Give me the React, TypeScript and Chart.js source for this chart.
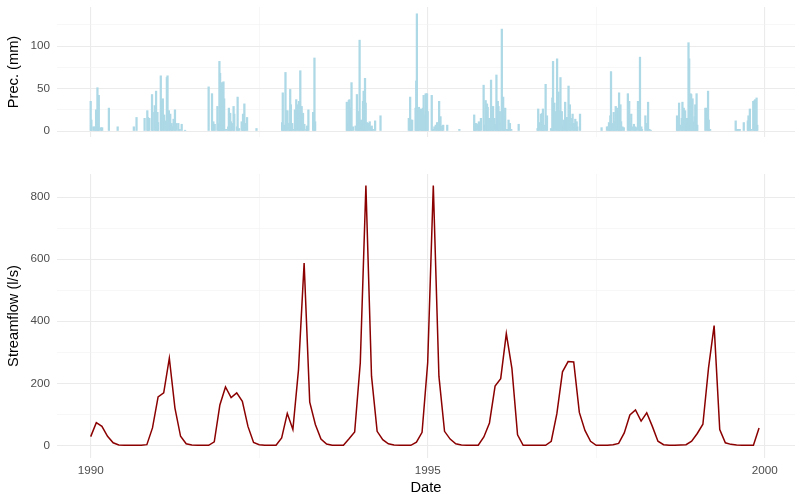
import React, { useEffect, useRef } from "react";
import { Chart, registerables } from "chart.js";

Chart.register(...registerables);

// ---------- DATA ----------
const flowStartYear = 1990;
// monthly streamflow (l/s), Jan 1990 .. Dec 1999
const streamflow = [
  28, 73, 61, 29, 8, 1, 0, 0, 0, 0, 2, 56,
  156, 169, 281, 120, 29, 5, 1, 0, 0, 0, 11, 130,
  188, 154, 169, 142, 61, 9, 2, 0, 0, 0, 24, 103,
  51, 244, 588, 139, 67, 20, 4, 0, 0, 0, 21, 43,
  266, 838, 223, 45, 18, 5, 1, 0, 0, 0, 10, 42,
  266, 838, 223, 45, 20, 5, 1, 0, 0, 0, 27, 72,
  191, 215, 360, 247, 34, 0, 0, 0, 0, 0, 13, 102,
  237, 270, 269, 106, 48, 13, 0, 0, 0, 2, 6, 40,
  98, 114, 78, 105, 61, 13, 2, 0, 0, 1, 2, 13,
  38, 68, 249, 386, 51, 8, 3, 1, 0, 0, 0, 56,
];

// precipitation events (date in decimal years, mm)
const precDate = [
  1990.00, 1990.01, 1990.04, 1990.06, 1990.08, 1990.10, 1990.11, 1990.12, 1990.15, 1990.17,
  1990.27, 1990.40, 1990.64, 1990.68, 1990.80, 1990.84, 1990.85, 1990.87, 1990.91, 1990.92,
  1990.95, 1990.97, 1990.99,
  1991.00, 1991.04, 1991.05, 1991.07, 1991.09, 1991.11, 1991.13, 1991.14, 1991.16, 1991.18,
  1991.20, 1991.21, 1991.23, 1991.25, 1991.27, 1991.30, 1991.32, 1991.35, 1991.40, 1991.75,
  1991.80, 1991.82, 1991.84, 1991.88, 1991.90, 1991.91, 1991.92, 1991.94, 1991.95, 1991.97,
  1991.98,
  1992.01, 1992.04, 1992.05, 1992.07, 1992.08, 1992.10, 1992.12, 1992.13, 1992.17, 1992.18,
  1992.20, 1992.24, 1992.26, 1992.28, 1992.29, 1992.32, 1992.46, 1992.84, 1992.85, 1992.87,
  1992.89, 1992.90, 1992.92, 1992.94, 1992.96, 1992.97, 1992.99,
  1993.01, 1993.03, 1993.05, 1993.07, 1993.09, 1993.11, 1993.13, 1993.15, 1993.17, 1993.20,
  1993.21, 1993.23, 1993.30, 1993.32, 1993.33, 1993.80, 1993.81, 1993.83, 1993.84, 1993.86,
  1993.87, 1993.89, 1993.93, 1993.95, 1993.97, 1993.98, 1993.99,
  1994.01, 1994.02, 1994.04, 1994.05, 1994.07, 1994.08, 1994.10, 1994.12, 1994.14, 1994.16,
  1994.17, 1994.19, 1994.22, 1994.30, 1994.72, 1994.74, 1994.75, 1994.77, 1994.82, 1994.83,
  1994.84, 1994.86, 1994.87, 1994.90, 1994.91, 1994.93, 1994.94, 1994.96, 1994.97, 1994.99,
  1995.00, 1995.06, 1995.08, 1995.10, 1995.12, 1995.14, 1995.16, 1995.17, 1995.19, 1995.21,
  1995.23, 1995.29, 1995.47, 1995.69, 1995.70, 1995.72, 1995.74, 1995.76, 1995.77, 1995.79,
  1995.83, 1995.84, 1995.86, 1995.88, 1995.89, 1995.91, 1995.93, 1995.94, 1995.96, 1995.97,
  1995.99,
  1996.01, 1996.02, 1996.04, 1996.05, 1996.07, 1996.08, 1996.10, 1996.12, 1996.13, 1996.15,
  1996.17, 1996.19, 1996.20, 1996.22, 1996.24, 1996.35, 1996.63, 1996.64, 1996.66, 1996.68,
  1996.70, 1996.71, 1996.73, 1996.75, 1996.77, 1996.83, 1996.85, 1996.86, 1996.88, 1996.90,
  1996.92, 1996.94, 1996.95, 1996.97, 1996.99,
  1997.00, 1997.02, 1997.04, 1997.06, 1997.07, 1997.09, 1997.11, 1997.13, 1997.15, 1997.17,
  1997.19, 1997.21, 1997.22, 1997.26, 1997.58, 1997.66, 1997.68, 1997.69, 1997.71, 1997.72,
  1997.74, 1997.76, 1997.77, 1997.79, 1997.81, 1997.83, 1997.84, 1997.86, 1997.87, 1997.89,
  1997.91, 1997.97, 1997.99,
  1998.00, 1998.02, 1998.04, 1998.06, 1998.08, 1998.09, 1998.12, 1998.14, 1998.15, 1998.17,
  1998.18, 1998.23, 1998.25, 1998.27, 1998.29, 1998.31, 1998.70, 1998.71, 1998.73, 1998.75,
  1998.77, 1998.78, 1998.80, 1998.82, 1998.83, 1998.84, 1998.85, 1998.87, 1998.88, 1998.90,
  1998.91, 1998.93, 1998.94, 1998.96, 1998.97, 1998.99,
  1999.00, 1999.12, 1999.14, 1999.16, 1999.17, 1999.19, 1999.57, 1999.59, 1999.61, 1999.63,
  1999.69, 1999.75, 1999.76, 1999.78, 1999.80, 1999.83, 1999.85, 1999.86, 1999.88, 1999.89,
];
const precMm = [
  35, 13, 5, 5, 25, 51, 30, 42, 4, 4,
  27, 5, 5, 16, 15, 24, 16, 15, 43, 22,
  30, 47, 22,
  10, 65, 35, 38, 19, 12, 63, 65, 24, 20,
  9, 5, 14, 25, 9, 9, 2, 8, 1, 52,
  44, 11, 8, 29, 9, 82, 68, 36, 57, 58,
  38,
  2, 5, 27, 21, 11, 9, 29, 20, 5, 40,
  3, 11, 20, 32, 9, 16, 3, 10, 45, 7,
  69, 24, 24, 9, 49, 31, 9,
  2, 25, 37, 31, 35, 71, 29, 21, 8, 2,
  6, 25, 22, 86, 11, 34, 11, 36, 37, 27,
  57, 5, 6, 43, 23, 7, 107,
  13, 9, 35, 47, 62, 33, 10, 9, 11, 5,
  6, 2, 12, 18, 15, 40, 13, 13, 27, 59,
  138, 27, 28, 26, 25, 27, 42, 19, 44, 44,
  23, 42, 2, 5, 7, 10, 10, 35, 17, 6,
  7, 7, 2, 19, 9, 9, 8, 11, 7, 15,
  54, 7, 36, 32, 28, 15, 11, 60, 28, 29,
  15,
  8, 66, 35, 29, 23, 9, 120, 40, 19, 27,
  2, 2, 13, 9, 2, 8, 3, 26, 10, 20,
  21, 26, 7, 55, 18, 3, 39, 82, 33, 23,
  85, 46, 24, 63, 23,
  6, 13, 34, 16, 16, 53, 31, 15, 20, 9,
  14, 11, 5, 20, 4, 5, 5, 10, 18, 70,
  9, 22, 11, 29, 27, 23, 45, 31, 11, 5,
  4, 44, 35,
  9, 20, 5, 8, 5, 4, 35, 9, 87, 5,
  2, 18, 9, 34, 2, 1, 18, 11, 33, 7,
  15, 34, 27, 24, 15, 8, 15, 104, 85, 44,
  43, 38, 11, 17, 31, 44,
  7, 27, 27, 47, 13, 2, 12, 2, 2, 2,
  10, 12, 18, 26, 2, 35, 36, 37, 39, 7,
];

const yearMajor = [1990, 1995, 2000];
const yearMinor = [1992.5, 1997.5];
const precMajor = [0, 50, 100];
const precMinor = [25, 75, 125];
const flowMajor = [0, 200, 400, 600, 800];
const flowMinor = [100, 300, 500, 700];

// ---------- STYLE ----------
const FONT = "'Liberation Sans', Arial, Helvetica, sans-serif";
const TICK_COLOR = "#4D4D4D";
const GRID = "#EBEBEB";
const X_MIN = 1989.5;
const X_MAX = 2000.45;

function gridOpts(major: number[]) {
  return {
    drawTicks: false,
    offset: false,
    color: (ctx: any) => (ctx.tick && major.includes(ctx.tick.value) ? GRID : "#F2F2F2"),
    lineWidth: (ctx: any) => (ctx.tick && major.includes(ctx.tick.value) ? 1.1 : 0.6),
  };
}

function xScale(showLabels: boolean) {
  return {
    type: "linear",
    min: X_MIN,
    max: X_MAX,
    offset: false,
    afterBuildTicks: (s: any) => {
      s.ticks = [...yearMajor, ...yearMinor].sort((a, b) => a - b).map((v) => ({ value: v }));
    },
    afterFit: (s: any) => {
      s.height = showLabels ? 42 : 0;
      s.paddingLeft = 0;
      s.paddingRight = 0;
    },
    grid: gridOpts(yearMajor),
    border: { display: false },
    ticks: {
      display: showLabels,
      autoSkip: false,
      maxRotation: 0,
      padding: 6,
      color: TICK_COLOR,
      font: { family: FONT, size: 11.7 },
      callback: (v: any) => (yearMajor.includes(v) ? String(v) : ""),
    },
    title: {
      display: showLabels,
      text: "Date",
      color: "#000",
      padding: { top: 0, bottom: 3 },
      font: { family: FONT, size: 14.67 },
    },
  };
}

function yScale(min: number, max: number, major: number[], minor: number[], title: string) {
  return {
    type: "linear",
    min,
    max,
    afterBuildTicks: (s: any) => {
      s.ticks = [...major, ...minor].sort((a, b) => a - b).map((v) => ({ value: v }));
    },
    afterFit: (s: any) => {
      s.width = 57;
      s.paddingTop = 0;
      s.paddingBottom = 0;
    },
    grid: gridOpts(major),
    border: { display: false },
    ticks: {
      autoSkip: false,
      padding: 7,
      color: TICK_COLOR,
      font: { family: FONT, size: 11.7 },
      callback: (v: any) => (major.includes(v) ? String(v) : ""),
    },
    title: {
      display: true,
      text: title,
      color: "#000",
      padding: { top: 5, bottom: 0 },
      font: { family: FONT, size: 14.67 },
    },
  };
}

function PrecChart() {
  const ref = useRef<HTMLCanvasElement | null>(null);
  useEffect(() => {
    if (!ref.current) return;
    const chart = new Chart(ref.current, {
      type: "bar",
      data: {
        datasets: [
          {
            data: precDate.map((d, i) => ({ x: d, y: precMm[i] })),
            backgroundColor: "#ADD8E6",
            borderWidth: 0,
            barThickness: 1.6,
          } as any,
        ],
      },
      options: {
        responsive: false,
        animation: false,
        events: [],
        layout: { autoPadding: false, padding: { top: 7, bottom: 8, left: 0, right: 5 } },
        plugins: { legend: { display: false }, tooltip: { enabled: false } },
        scales: {
          x: xScale(false) as any,
          y: yScale(-7, 146, precMajor, precMinor, "Prec. (mm)") as any,
        },
      } as any,
    });
    return () => chart.destroy();
  }, []);
  return (
    <canvas
      ref={ref}
      width={800}
      height={145}
      style={{ position: "absolute", left: 0, top: 0, display: "block" }}
    />
  );
}

function FlowChart() {
  const ref = useRef<HTMLCanvasElement | null>(null);
  useEffect(() => {
    if (!ref.current) return;
    const chart = new Chart(ref.current, {
      type: "line",
      data: {
        datasets: [
          {
            data: streamflow.map((v, i) => ({ x: flowStartYear + i / 12, y: v })),
            borderColor: "#8B0000",
            borderWidth: 1.5,
            pointRadius: 0,
            tension: 0,
            fill: false,
          },
        ],
      },
      options: {
        responsive: false,
        animation: false,
        events: [],
        layout: { autoPadding: false, padding: { top: 29, bottom: 0, left: 0, right: 5 } },
        plugins: { legend: { display: false }, tooltip: { enabled: false } },
        scales: {
          x: xScale(true) as any,
          y: yScale(-41, 875, flowMajor, flowMinor, "Streamflow (l/s)") as any,
        },
      } as any,
    });
    return () => chart.destroy();
  }, []);
  return (
    <canvas
      ref={ref}
      width={800}
      height={355}
      style={{ position: "absolute", left: 0, top: 145, display: "block" }}
    />
  );
}

export default function App() {
  return (
    <div
      style={{
        position: "absolute",
        left: 0,
        top: 0,
        width: 800,
        height: 500,
        background: "#FFFFFF",
        overflow: "hidden",
      }}
    >
      <PrecChart />
      <FlowChart />
    </div>
  );
}
